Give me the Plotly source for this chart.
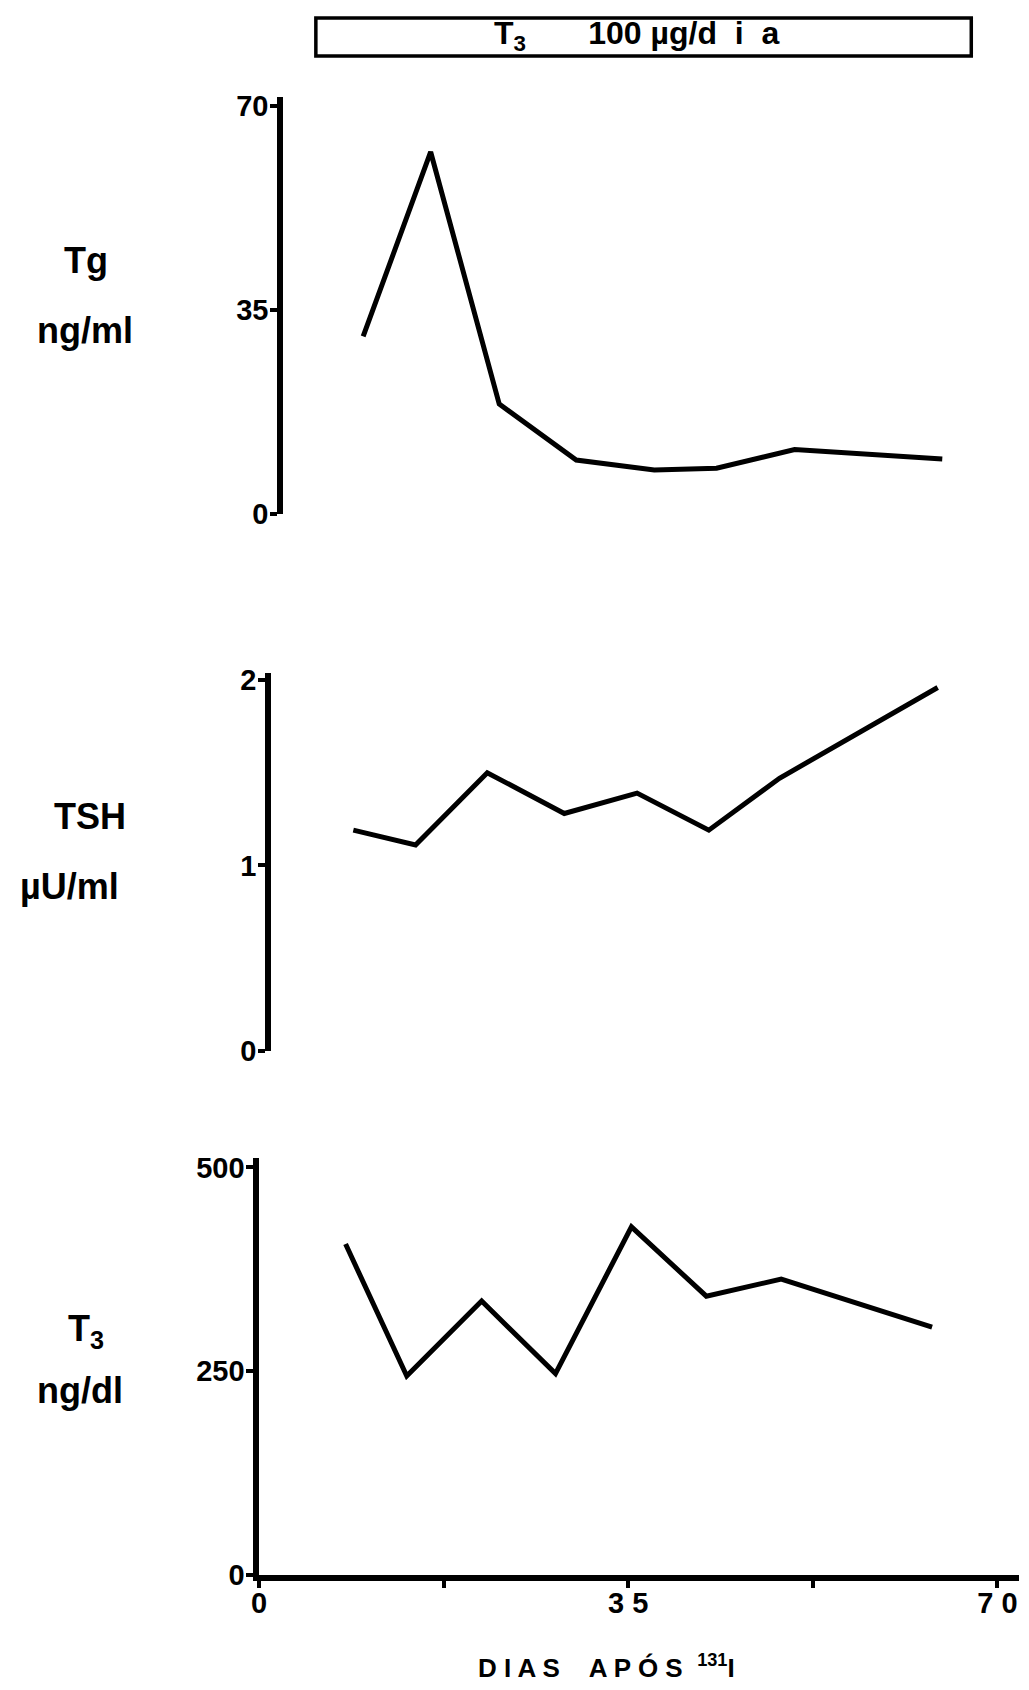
import plotly.graph_objects as go

# ---- data ----
days_tg = [7.6, 14.0, 20.5, 27.8, 35.2, 41.1, 48.5, 62.5]
tg_values = [30.5, 62.1, 18.9, 9.3, 7.6, 7.9, 11.1, 9.5]

days_tsh = [7.8, 13.7, 20.5, 27.8, 34.7, 41.5, 48.2, 63.2]
tsh_values = [1.19, 1.11, 1.50, 1.28, 1.39, 1.19, 1.47, 1.96]

days_t3 = [8.2, 14.0, 21.1, 28.1, 35.3, 42.4, 49.5, 63.8]
t3_values = [406, 244, 336, 247, 427, 342, 363, 304]

tg_ticks = [0, 35, 70]
tsh_ticks = [0, 1, 2]
t3_ticks = [0, 250, 500]
x_tickvals = [0, 17.5, 35, 52.5, 70]
x_ticktext = ["0", "", "3 5", "", "7 0"]

# page has an 8px body margin; size the figure so the page is exactly 1029x1690
OFF = 8
W, H = 1029 - 2 * OFF, 1690 - 2 * OFF
FONT = "Liberation Sans, Arial, DejaVu Sans, sans-serif"

# small empirical correction between requested page position and where it shows
AX, BX = 6.0, 0.996
AY, BY = 6.1, 0.987


def px(x):
    s = (x - AX) / BX
    return min(max((s - OFF) / W, 0.0), 1.0)


def py(y):
    s = (y - AY) / BY
    return min(max(1 - (s - OFF) / H, 0.0), 1.0)


fig = go.Figure()

line_style = dict(color="black", width=5)
fig.add_trace(go.Scatter(x=days_tg, y=tg_values, mode="lines", line=line_style,
                         xaxis="x", yaxis="y", showlegend=False, hoverinfo="skip"))
fig.add_trace(go.Scatter(x=days_tsh, y=tsh_values, mode="lines", line=line_style,
                         xaxis="x2", yaxis="y2", showlegend=False, hoverinfo="skip"))
fig.add_trace(go.Scatter(x=days_t3, y=t3_values, mode="lines", line=line_style,
                         xaxis="x3", yaxis="y3", showlegend=False, hoverinfo="skip"))

scale = 10.59  # target px per day

tick_font = dict(family=FONT, size=29, color="black", weight="bold")

common_y = dict(showline=True, linecolor="black", linewidth=5.5, showgrid=False,
                zeroline=False, ticks="outside", ticklen=7, tickwidth=4,
                tickcolor="black", tickfont=tick_font, tickmode="array",
                ticklabelstandoff=-4)

hidden_x = dict(showline=False, showgrid=False, zeroline=False, showticklabels=False,
                ticks="")

# top panel: Tg  (70 at y=104, 0 at y=513)
x0_top = 282
fig.update_layout(
    xaxis=dict(domain=[px(x0_top), px(x0_top + 68 * scale)], range=[0, 68],
               anchor="y", **hidden_x),
    yaxis=dict(domain=[py(513), py(513 - 71.5 * (409 / 70))], range=[0, 71.5],
               anchor="x", tickvals=tg_ticks, ticktext=[str(v) for v in tg_ticks],
               **common_y),
)

# middle panel: TSH  (2 at y=679, 0 at y=1050)
x0_mid = 270
fig.update_layout(
    xaxis2=dict(domain=[px(x0_mid), px(x0_mid + 68 * scale)], range=[0, 68],
                anchor="y2", **hidden_x),
    yaxis2=dict(domain=[py(1050), py(1050 - 2.04 * 185.5)], range=[0, 2.04],
                anchor="x2", tickvals=tsh_ticks, ticktext=[str(v) for v in tsh_ticks],
                **common_y),
)

# bottom panel: T3  (500 at y=1167, 0 at y=1575)
x0_bot = 258
fig.update_layout(
    xaxis3=dict(domain=[px(x0_bot), px(x0_bot + 72 * scale)], range=[0, 72],
                anchor="y3", showline=True, linecolor="black", linewidth=5.5,
                showgrid=False, zeroline=False, ticks="outside", ticklen=7,
                tickwidth=4, tickcolor="black", tickfont=tick_font,
                tickmode="array", tickvals=x_tickvals, ticktext=x_ticktext,
                ticklabelstandoff=-9),
    yaxis3=dict(domain=[py(1575), py(1575 - 511 * 0.816)], range=[0, 511],
                anchor="x3", tickvals=t3_ticks, ticktext=[str(v) for v in t3_ticks],
                **common_y),
)

label_font = dict(family=FONT, size=36, color="black", weight="bold")
annotations = [
    dict(text="Tg", x=px(84), y=py(259)),
    dict(text="ng/ml", x=px(83), y=py(329)),
    dict(text="TSH", x=px(88), y=py(816)),
    dict(text="µU/ml", x=px(68), y=py(886)),
    dict(text="T<sub>3</sub>", x=px(84), y=py(1331)),
    dict(text="ng/dl", x=px(78), y=py(1390)),
]
for a in annotations:
    a.update(xref="paper", yref="paper", showarrow=False, font=label_font,
             xanchor="center", yanchor="middle")

NB = "&nbsp;"
annotations.append(dict(
    text="T<sub>3</sub>" + NB * 7 + "100 µg/d" + NB * 2 + "i" + NB * 2 + "a",
    x=px(637), y=py(34), xref="paper", yref="paper", showarrow=False,
    font=dict(family=FONT, size=32, color="black", weight="bold"),
    xanchor="center", yanchor="middle"))

annotations.append(dict(
    text="D I A S" + NB * 4 + "A P Ó S" + NB * 2 + "<sup>131</sup>I",
    x=px(607), y=py(1667), xref="paper", yref="paper", showarrow=False,
    font=dict(family=FONT, size=26, color="black", weight="bold"),
    xanchor="center", yanchor="middle"))

fig.update_layout(
    width=W, height=H,
    margin=dict(l=0, r=0, t=0, b=0),
    paper_bgcolor="white", plot_bgcolor="white",
    annotations=annotations,
    shapes=[dict(type="rect", xref="paper", yref="paper",
                 x0=px(315), x1=px(973), y0=py(54), y1=py(16),
                 line=dict(color="black", width=3.5))],
)

fig.write_html("out.html")
